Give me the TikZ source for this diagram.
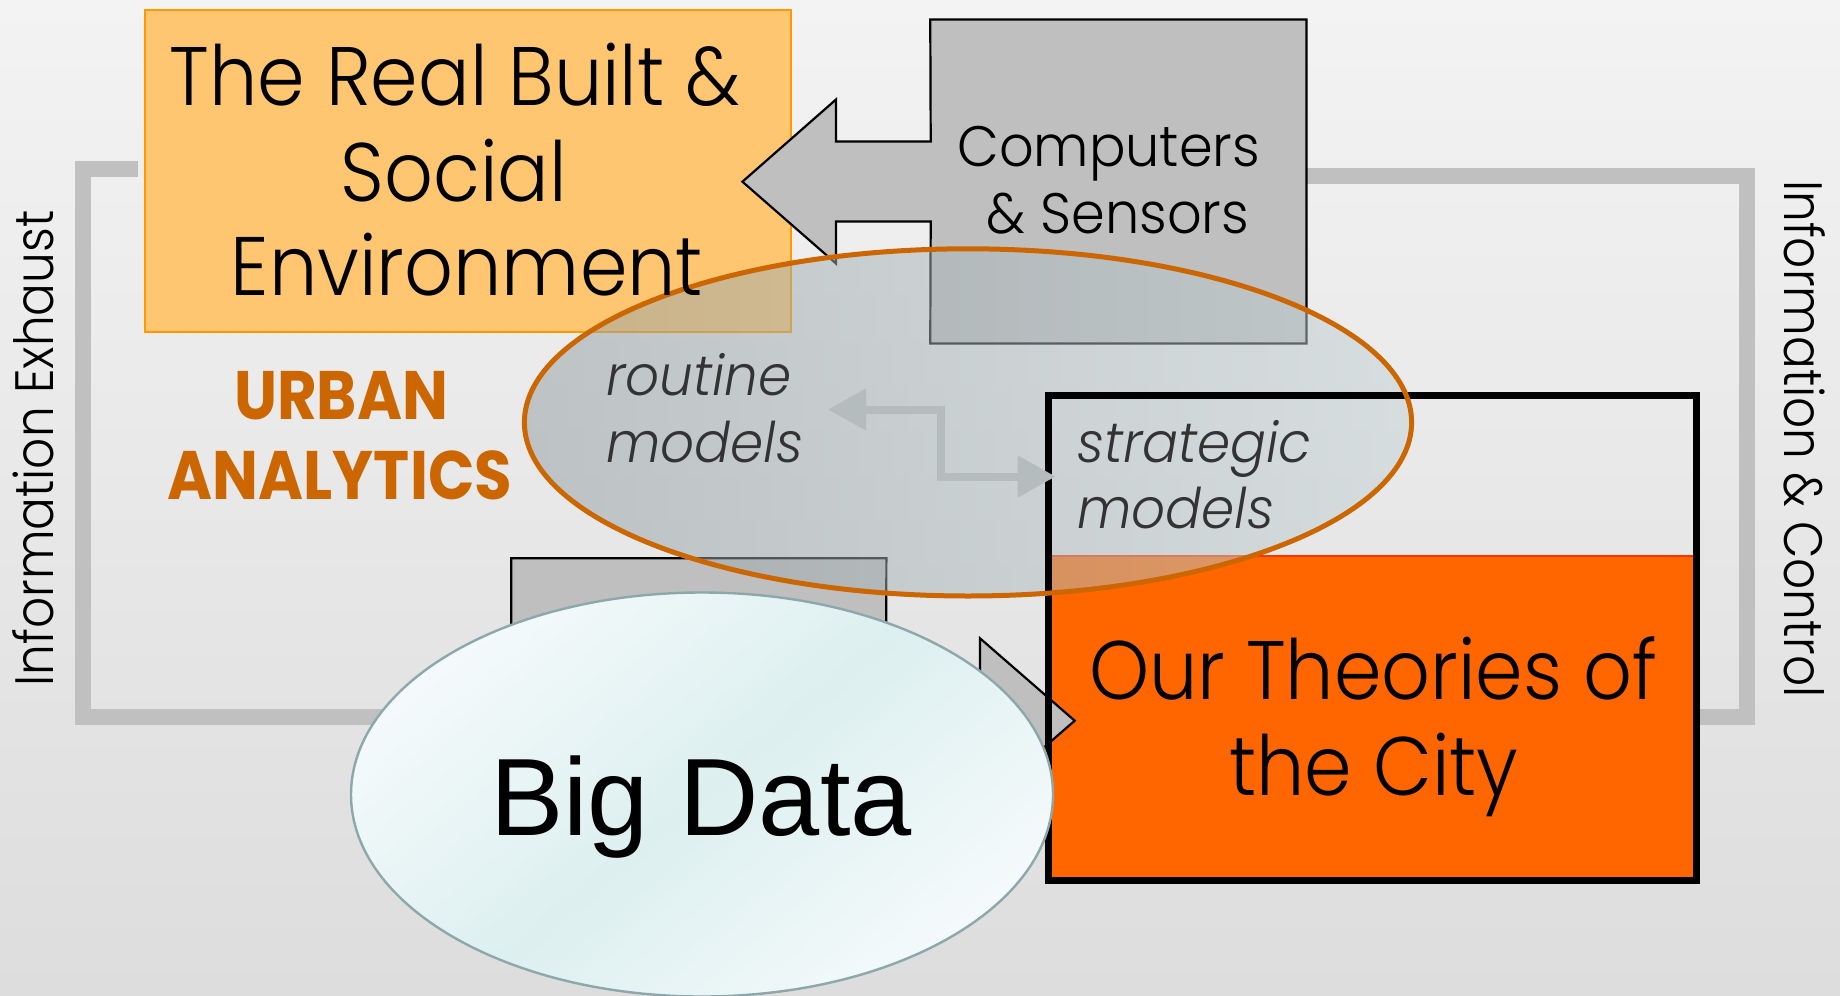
\documentclass[tikz,border=0pt]{standalone}
\usepackage{fontspec}
\setmainfont{Poppins}
\newfontfamily\gothicbig{Poppins Light}[FakeStretch=0.92]
\newfontfamily\gothiccomp{Poppins Light}[FakeStretch=0.95]
\newfontfamily\gothicside{Poppins Light}[FakeStretch=0.90]
\newfontfamily\gothicital{Poppins Light Italic}[FakeStretch=0.95]
\newfontfamily\gothicbold{Poppins Bold}[FakeStretch=0.89]
\newfontfamily\arialfont{Liberation Sans}
\usetikzlibrary{arrows.meta,shapes.geometric}
\definecolor{bgtop}{RGB}{243,243,243}
\definecolor{bgbot}{RGB}{221,221,221}
\definecolor{realfill}{RGB}{255,198,113}
\definecolor{realline}{RGB}{255,153,0}
\definecolor{boxgray}{RGB}{191,191,191}
\definecolor{loopgray}{RGB}{192,192,192}
\definecolor{cityorange}{RGB}{255,102,0}
\definecolor{cityline}{RGB}{255,51,0}
\definecolor{urbanline}{RGB}{204,102,0}
\definecolor{urbanleft}{RGB}{146,158,162}
\definecolor{urbanright}{RGB}{196,210,213}
\definecolor{bdcenter}{RGB}{221,239,239}
\definecolor{bdlight}{RGB}{244,250,251}
\definecolor{bdline}{RGB}{140,168,171}
\definecolor{modelgray}{RGB}{51,51,51}
\definecolor{arrowgray}{RGB}{181,188,190}
\tikzset{
  loopline/.style={draw=loopgray, line width=8pt},
  realbox/.style={rectangle, draw=realline, fill=realfill, line width=1pt, inner sep=0pt},
  grayshape/.style={draw=black, fill=boxgray, line width=1.1pt, line join=miter},
  placebox/.style={rectangle, inner sep=0pt},
  cityborder/.style={rectangle, draw=black, line width=3.5pt, inner sep=0pt},
  urbanfill/.style={ellipse, inner sep=0pt, left color=urbanleft, right color=urbanright, fill opacity=0.5},
  urbanedge/.style={draw=urbanline, line width=2.5pt},
  bdstyle/.style={ellipse, inner sep=0pt, draw=bdline, line width=1.2pt, shading=axis, top color=bdlight, bottom color=bdlight, middle color=bdcenter, shading angle=40},
  biarrow/.style={draw=arrowgray, line width=4pt, {Triangle[length=19pt,width=20pt]}-{Triangle[length=19pt,width=20pt]}},
  bigtxt/.style={inner sep=0pt, font=\gothicbig\fontsize{41.5}{48}\selectfont},
  comptxt/.style={inner sep=0pt, font=\gothiccomp\fontsize{28.5}{33}\selectfont},
  urbantxt/.style={inner sep=0pt, text=urbanline, font=\gothicbold\fontsize{34.3}{40}\selectfont},
  modeltxt/.style={inner sep=0pt, text=modelgray, font=\gothicital\fontsize{28}{33}\selectfont},
  sidetxt/.style={inner sep=0pt, font=\gothicside\fontsize{27}{32}\selectfont},
  bdtxt/.style={inner sep=0pt, font=\arialfont\fontsize{55}{60}\selectfont}
}
\begin{document}
\begin{tikzpicture}[x=0.5pt,y=-0.5pt]
\useasboundingbox (0,0) rectangle (1840,995);
\shade[top color=bgtop,bottom color=bgbot] (0,0) rectangle (1840,995);

% box nodes
\node[realbox, minimum width=323pt, minimum height=161pt] (real) at (468,171) {};
\node[placebox, minimum width=187.7pt, minimum height=161.5pt] (comp) at (1118.35,181.5) {};
\node[placebox, minimum width=187.2pt, minimum height=161.2pt] (bottombox) at (698.8,719.8) {};
\node[placebox, minimum width=324pt, minimum height=242.75pt] (theory) at (1372.5,637.75) {};

% loop connectors
\draw[loopline] ([shift={(-6,-2.5)}]real.west) -- ++(-55,0) |- (bottombox.west |- 0,717);
\draw[loopline] ([yshift=3pt]comp.east) -- ++(441,0) |- (theory.east |- 0,716.5);

% computers & sensors arrow-box
\draw[grayshape] (comp.north east) -- (comp.south east) -- (comp.south west)
  -- (930.7,221.5) -- (836,221.5) -- (836,263.5) -- (742.4,181.7) -- (836,99.5)
  -- (836,141.5) -- (930.7,141.5) -- (comp.north west) -- cycle;

% orange lower part of theory box
\fill[cityorange] (1048.5,556) rectangle (theory.south east);
\draw[cityline, line width=0.6pt] (1048.5,556) -- (1696.5,556);

% big data arrow-box
\draw[grayshape] (bottombox.north west) -- (bottombox.north east) -- (886,681) -- (980,681)
  -- (980,638.3) -- (1074.7,720.7) -- (980,803) -- (980,761) -- (886,761)
  -- (bottombox.south east) -- (bottombox.south west) -- cycle;

% urban analytics ellipse (fill)
\node[urbanfill, minimum width=443.6pt, minimum height=173.6pt] (urban) at (968,422.4) {};

% theory box border
\node[cityborder, minimum width=324pt, minimum height=242.75pt] at (theory.center) {};

% urban analytics ellipse (outline)
\draw[urbanedge] (urban.center) ellipse [x radius=221.8pt, y radius=86.8pt];

% routine <-> strategic models
\coordinate (rarr) at (828,409.5);
\coordinate (sarr) at (1055.7,476.5);
\draw[biarrow] (rarr) -- (941,409.5) -- (941,476.5) -- (sarr);

% big data ellipse
\node[bdstyle, minimum width=351pt, minimum height=202pt] (bigdata) at (702,794.5) {};

% texts
\node[bigtxt, anchor=base] (t1) at (455,105) {The Real Built \&};
\node[bigtxt, anchor=base] (t2) at (454,201.7) {Social};
\node[bigtxt, anchor=base] (t3) at (467,295) {Environment};
\node[comptxt, anchor=base] (c1) at (1108.7,166.7) {Computers};
\node[comptxt, anchor=base] (c2) at (1118,233.3) {\& Sensors};
\node[urbantxt, anchor=base] (u1) at (341,419) {URBAN};
\node[urbantxt, anchor=base] (u2) at (340,499) {ANALYTICS};
\node[modeltxt, anchor=base west] (r1) at (606,395.7) {routine};
\node[modeltxt, anchor=base west] (r2) at (606,462) {models};
\node[modeltxt, anchor=base west] (s1) at (1077,462.3) {strategic};
\node[modeltxt, anchor=base west] (s2) at (1077,528) {models};
\node[bigtxt, anchor=base] (o1) at (1373,699.3) {Our Theories of};
\node[bigtxt, anchor=base] (o2) at (1374,795.3) {the City};
\node[bdtxt, anchor=base] (bd) at (701,835.5) {Big Data};
\node[sidetxt, rotate=90, anchor=base] (ie) at (53,448.5) {Information Exhaust};
\node[sidetxt, rotate=-90, anchor=base] (ic) at (1784,439) {Information \& Control};
\end{tikzpicture}
\end{document}
